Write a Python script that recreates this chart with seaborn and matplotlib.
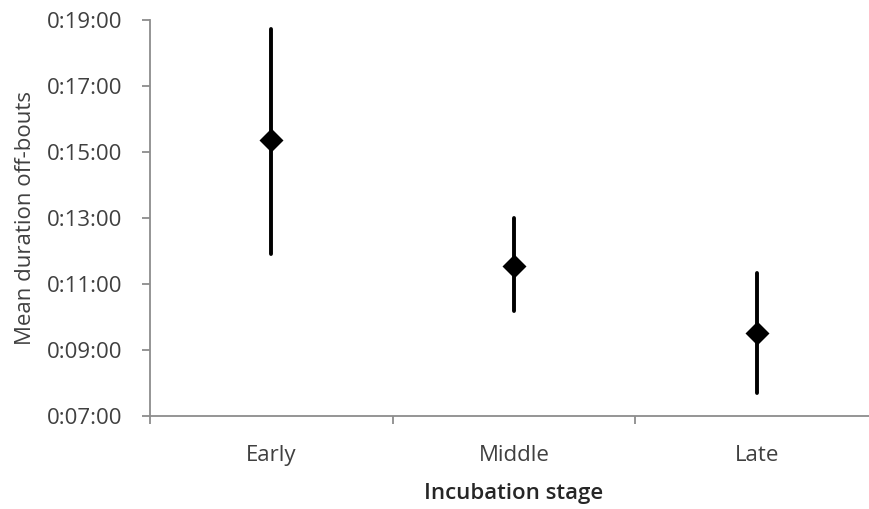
import numpy as np
import pandas as pd
import matplotlib
matplotlib.use('Agg')
import matplotlib.pyplot as plt
from matplotlib.ticker import FuncFormatter, FixedLocator
import seaborn as sns

# data (minutes)
stages = ['Early', 'Middle', 'Late']
mean_min = [15.36, 11.55, 9.53]
low_min = [11.91, 10.18, 7.70]
high_min = [18.72, 13.00, 11.33]

# long table: low / mean / high per stage -> median = mean, min/max = bar ends
df = pd.DataFrame({
    'stage': np.repeat(stages, 3),
    'minutes': np.ravel(np.column_stack([low_min, mean_min, high_min])),
})

sns.set_style('white')
plt.rcParams['font.family'] = ['Open Sans', 'DejaVu Sans']

fig = plt.figure(figsize=(8.69, 5.09), dpi=100)
ax = fig.add_axes([150 / 869, 1 - 416 / 509, 728 / 869, 396 / 509])

sns.pointplot(data=df, x='stage', y='minutes', order=stages,
              estimator=np.median, errorbar=lambda v: (v.min(), v.max()),
              color='black', marker='D', markersize=10, linestyle='none',
              err_kws={'linewidth': 2.8}, ax=ax)

ax.set_ylim(7, 19)
ax.set_xlim(-0.5, 2.5)
ax.set_yticks(np.arange(7, 20, 2))
ax.yaxis.set_major_formatter(FuncFormatter(lambda v, p: f'0:{int(round(v)):02d}:00'))
ax.xaxis.set_minor_locator(FixedLocator([-0.5, 0.5, 1.5, 2.5]))

for s in ['top', 'right']:
    ax.spines[s].set_visible(False)
for s in ['left', 'bottom']:
    ax.spines[s].set_color('#8c8c8c')
    ax.spines[s].set_linewidth(1.3)

ax.tick_params(axis='y', which='major', direction='out', length=6, width=1.3,
               color='#8c8c8c', labelsize=16, labelcolor='#404040', pad=14, left=True)
ax.tick_params(axis='x', which='major', length=0, labelsize=16,
               labelcolor='#404040', pad=21)
ax.tick_params(axis='x', which='minor', direction='out', length=6, width=1.3,
               color='#8c8c8c', bottom=True)

ax.set_xlabel('Incubation stage', fontsize=16, fontweight='semibold',
              color='#262626', labelpad=12)
ax.set_ylabel('Mean duration off-bouts', fontsize=16, color='#404040', labelpad=8)

fig.savefig('out.png', dpi=100)
